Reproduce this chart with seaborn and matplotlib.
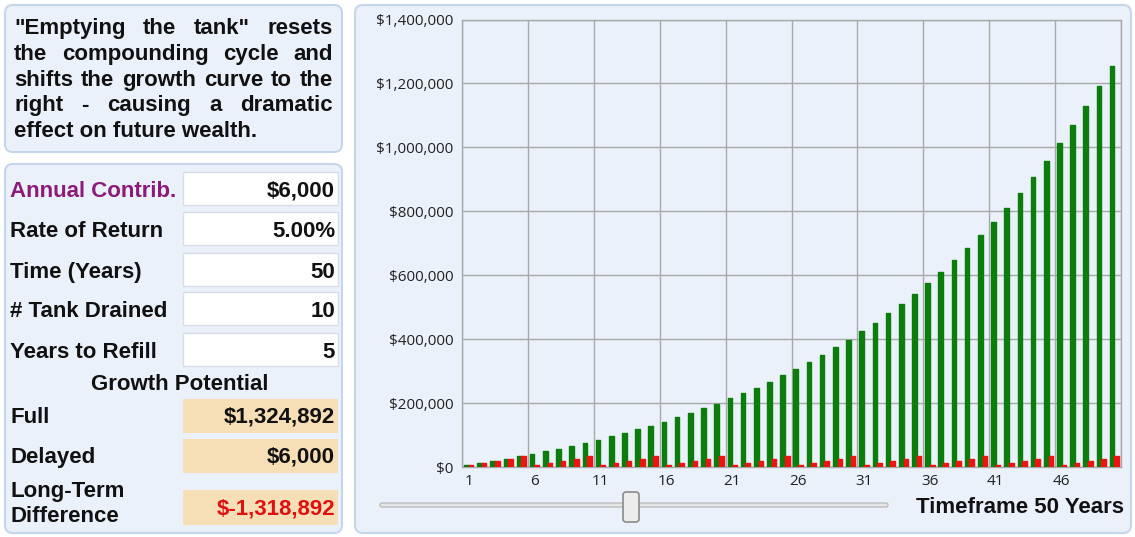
import numpy as np
import pandas as pd
import matplotlib
matplotlib.use("Agg")
import matplotlib.pyplot as plt
import seaborn as sns
from matplotlib.patches import FancyBboxPatch, Rectangle
from matplotlib.ticker import FuncFormatter

plt.rcParams['font.family'] = ['Liberation Sans', 'DejaVu Sans']

# ---- data ----
years = list(range(1, 51))
full_values = [6000, 12300, 18915, 25861, 33154, 40811, 48852, 57295, 66159, 75467,
               85241, 95503, 106278, 117592, 129471, 141945, 155042, 168794, 183234, 198396,
               214316, 231031, 248583, 267012, 286363, 306681, 328015, 350415, 373936, 398633,
               424565, 451793, 480383, 510402, 541922, 575018, 609769, 646257, 684570, 724799,
               767039, 811391, 857960, 906858, 958201, 1012111, 1068717, 1128152, 1190560, 1256088]
delayed_values = [6000, 12300, 18915, 25861, 33154, 6000, 12300, 18915, 25861, 33154,
                  6000, 12300, 18915, 25861, 33154, 6000, 12300, 18915, 25861, 33154,
                  6000, 12300, 18915, 25861, 33154, 6000, 12300, 18915, 25861, 33154,
                  6000, 12300, 18915, 25861, 33154, 6000, 12300, 18915, 25861, 33154,
                  6000, 12300, 18915, 25861, 33154, 6000, 12300, 18915, 25861, 33154]
y_ticks = [0, 200000, 400000, 600000, 800000, 1000000, 1200000, 1400000]

intro = ['"Emptying the tank" resets',
         'the compounding cycle and',
         'shifts the growth curve to the',
         'right - causing a dramatic',
         'effect on future wealth.']
input_labels = ["Annual Contrib.", "Rate of Return", "Time (Years)", "# Tank Drained", "Years to Refill"]
input_values = ["$6,000", "5.00%", "50", "10", "5"]
full_total = "$1,324,892"
delayed_total = "$6,000"
difference = "$-1,318,892"

GREEN = "#0b7d0b"
RED = "#ee1414"
PANEL = "#eaf1fb"
EDGE = "#c6d6ea"
GRID = "#a9a9a9"

W, H = 1135, 537
fig = plt.figure(figsize=(W / 100, H / 100), dpi=100)
fig.patch.set_facecolor("white")

# background axes in pixel coordinates
bg = fig.add_axes([0, 0, 1, 1], zorder=0)
bg.set_xlim(0, W)
bg.set_ylim(H, 0)
bg.axis("off")


def panel(x0, y0, x1, y1, fc=PANEL, ec=EDGE, r=8, lw=1.5):
    bg.add_patch(FancyBboxPatch((x0, y0), x1 - x0, y1 - y0,
                                boxstyle=f"round,pad=0,rounding_size={r}",
                                fc=fc, ec=ec, lw=lw))


panel(5, 5, 342, 152)
panel(5, 164, 342, 533)
panel(355, 5, 1131, 533)

# justified intro text
renderer = fig.canvas.get_renderer()
baselines = [34, 60, 86, 111, 137]
txt_kw = dict(fontsize=16, fontweight="bold", va="baseline", ha="left", color="#111111")
for i, (line, yb) in enumerate(zip(intro, baselines)):
    if i == len(intro) - 1:
        bg.text(14, yb, line, **txt_kw)
        continue
    words = line.split(" ")
    texts = [bg.text(0, yb, w, **txt_kw) for w in words]
    widths = [t.get_window_extent(renderer).width for t in texts]
    gap = (333 - 14 - sum(widths)) / (len(words) - 1)
    x = 14
    for t, w in zip(texts, widths):
        t.set_x(x)
        x += w + gap

# input rows
field_tops = [172, 212, 253, 292, 333]
for i, (lab, val, top) in enumerate(zip(input_labels, input_values, field_tops)):
    bg.add_patch(Rectangle((183, top), 155, 33, fc="white", ec="#d6dde6", lw=1))
    yb = top + 25
    bg.text(10, yb, lab, fontsize=16, fontweight="bold", va="baseline",
            color="#8b1a7a" if i == 0 else "#111111")
    bg.text(335, yb, val, fontsize=16, fontweight="bold", va="baseline", ha="right", color="#111111")

bg.text(180, 390, "Growth Potential", fontsize=16, fontweight="bold", va="baseline", ha="center", color="#111111")

BEIGE = "#f6dfb6"
bg.add_patch(Rectangle((183, 399), 155, 34, fc=BEIGE, ec="none"))
bg.add_patch(Rectangle((183, 439), 155, 34, fc=BEIGE, ec="none"))
bg.add_patch(Rectangle((183, 490), 155, 35, fc=BEIGE, ec="none"))
bg.text(10, 423, "Full", fontsize=16, fontweight="bold", va="baseline", color="#111111")
bg.text(335, 423, full_total, fontsize=16, fontweight="bold", va="baseline", ha="right", color="#111111")
bg.text(10, 463, "Delayed", fontsize=16, fontweight="bold", va="baseline", color="#111111")
bg.text(335, 463, delayed_total, fontsize=16, fontweight="bold", va="baseline", ha="right", color="#111111")
bg.text(10, 497, "Long-Term", fontsize=16, fontweight="bold", va="baseline", color="#111111")
bg.text(10, 522, "Difference", fontsize=16, fontweight="bold", va="baseline", color="#111111")
bg.text(335, 515, difference, fontsize=16, fontweight="bold", va="baseline", ha="right", color="#e01010")

# slider + timeframe caption
bg.add_patch(FancyBboxPatch((380, 503), 508, 4, boxstyle="round,pad=0,rounding_size=2",
                            fc="#e6e6e6", ec="#bcbcbc", lw=1))
bg.add_patch(FancyBboxPatch((623, 492), 16, 30, boxstyle="round,pad=0,rounding_size=3",
                            fc="#ececec", ec="#8a8a8a", lw=1.2))
bg.text(1124, 513, "Timeframe 50 Years", fontsize=16, fontweight="bold", va="baseline", ha="right", color="#111111")

# ---- chart ----
ax = fig.add_axes([462 / W, (H - 467) / H, 659 / W, 447.5 / H], zorder=2)
ax.set_facecolor(PANEL)

df = pd.DataFrame({
    "year": years * 2,
    "value": full_values + delayed_values,
    "series": ["Full"] * len(years) + ["Delayed"] * len(years),
})
sns.barplot(data=df, x="year", y="value", hue="series", hue_order=["Full", "Delayed"],
            palette=[GREEN, RED], saturation=1, width=0.7, errorbar=None,
            legend=False, ax=ax)

for p in ax.patches:
    p.set_edgecolor(p.get_facecolor())
    p.set_linewidth(1.0)
    p.set_joinstyle("round")
    p.set_zorder(3)

ax.set_xlim(-0.5, 49.5)
ax.set_ylim(0, 1400000)
ax.set_yticks(y_ticks)
ax.yaxis.set_major_formatter(FuncFormatter(lambda v, _: f"${v:,.0f}"))
ax.set_xticks(range(0, 50, 5))
ax.set_xticklabels([str(y) for y in years[::5]])
ax.set_xticks(np.arange(-0.5, 50, 5), minor=True)
ax.tick_params(axis="both", which="both", length=0)
ax.tick_params(axis="x", pad=5)
ax.tick_params(axis="y", pad=6)
for lbl in ax.get_xticklabels() + ax.get_yticklabels():
    lbl.set_fontfamily("Open Sans")
    lbl.set_fontsize(11)
    lbl.set_color("#222222")
ax.grid(which="minor", axis="x", color=GRID, lw=1)
ax.grid(which="major", axis="y", color=GRID, lw=1)
ax.grid(which="major", axis="x", visible=False)
ax.set_axisbelow(True)
for s in ax.spines.values():
    s.set_color(GRID)
    s.set_linewidth(1)
ax.set_xlabel("")
ax.set_ylabel("")

fig.savefig("out.png", dpi=100)
